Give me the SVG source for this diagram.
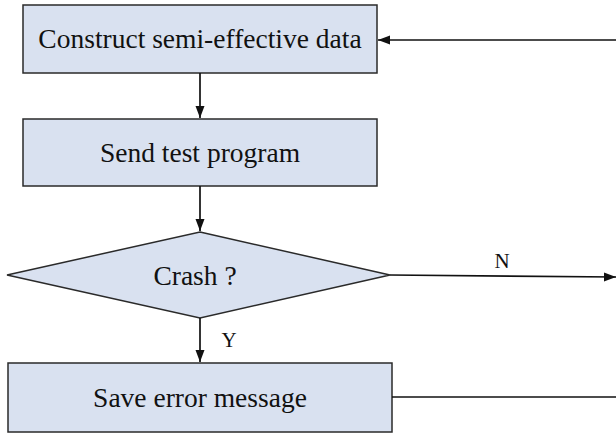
<svg xmlns="http://www.w3.org/2000/svg" width="616" height="433" viewBox="0 0 616 433">
  <defs>
    <marker id="arrow" viewBox="0 0 12 10" refX="12" refY="5" markerWidth="12" markerHeight="10" markerUnits="userSpaceOnUse" orient="auto">
      <path d="M0,0.5 L12,5 L0,9.5 Z" fill="#111"/>
    </marker>
    <style>
      .node { fill: #d9e1f0; stroke: #2a2a2a; stroke-width: 1.5; }
      .label { font-size: 27.5px; fill: #111; text-anchor: middle; }
      .edge-label { font-size: 21px; fill: #111; text-anchor: middle; }
      .edge { fill: none; stroke: #111; stroke-width: 1.7; }
    </style>
  </defs>
  <rect width="616" height="433" fill="#ffffff"/>

  <g font-family="'Liberation Serif', 'Times New Roman', 'DejaVu Serif', serif">
    <g id="construct">
      <rect class="node" x="23" y="5" width="354" height="68"/>
      <text class="label" x="200" y="48">Construct semi-effective data</text>
    </g>

    <g id="send">
      <rect class="node" x="23" y="119" width="354" height="67"/>
      <text class="label" x="200" y="162">Send test program</text>
    </g>

    <g id="crash">
      <polygon class="node" points="200,232 390,275 200,318 7,275"/>
      <text class="label" x="195" y="285">Crash ?</text>
    </g>

    <g id="save">
      <rect class="node" x="8" y="363" width="384" height="69"/>
      <text class="label" x="200" y="407">Save error message</text>
    </g>

    <g id="connectors">
      <line class="edge" x1="200" y1="73" x2="200" y2="118" marker-end="url(#arrow)"/>
      <line class="edge" x1="200" y1="186" x2="200" y2="231" marker-end="url(#arrow)"/>
      <line class="edge" x1="200" y1="318" x2="200" y2="362" marker-end="url(#arrow)"/>
      <line class="edge" x1="390" y1="275" x2="616" y2="277" marker-end="url(#arrow)"/>
      <line class="edge" x1="616" y1="40" x2="378" y2="40" marker-end="url(#arrow)"/>
      <line class="edge" x1="392" y1="397" x2="616" y2="397"/>
      <text class="edge-label" x="502" y="268">N</text>
      <text class="edge-label" x="229" y="347">Y</text>
    </g>
  </g>
</svg>
